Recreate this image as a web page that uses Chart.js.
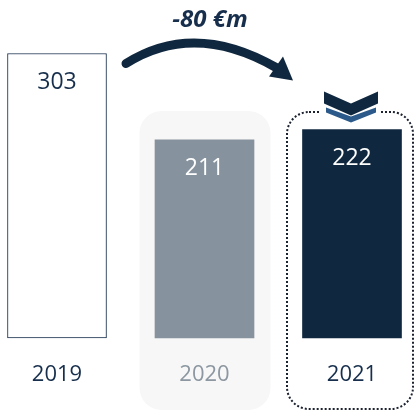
<!DOCTYPE html>
<html>
<head>
<meta charset="utf-8">
<script src="https://cdn.jsdelivr.net/npm/chart.js@4/dist/chart.umd.min.js"></script>
<style>
  html, body { margin: 0; padding: 0; background: #ffffff; }
  #wrap { width: 415px; height: 411px; position: relative; }
</style>
</head>
<body>
<div id="wrap"><canvas id="c" width="415" height="411"></canvas></div>
<script>
// Yearly totals (€m)
const years = ['2019', '2020', '2021'];
const totals = [303, 211, 222];
const changeLabel = '-80 €m';

const NAVY = '#10283f';
const NAVY_TEXT = '#172f4c';
const GREY = '#86929d';
const GREY_TEXT = '#8c97a1';
const LIGHT_BLUE = '#2b5a8a';
const FONT = '"Open Sans", "DejaVu Sans", sans-serif';

function roundRect(ctx, x, y, w, h, r) {
  ctx.beginPath();
  ctx.moveTo(x + r, y);
  ctx.lineTo(x + w - r, y);
  ctx.arcTo(x + w, y, x + w, y + r, r);
  ctx.lineTo(x + w, y + h - r);
  ctx.arcTo(x + w, y + h, x + w - r, y + h, r);
  ctx.lineTo(x + r, y + h);
  ctx.arcTo(x, y + h, x, y + h - r, r);
  ctx.lineTo(x, y + r);
  ctx.arcTo(x, y, x + r, y, r);
  ctx.closePath();
}

// Panels behind the 2020 and 2021 columns
const panels = {
  id: 'panels',
  beforeDraw(chart) {
    const ctx = chart.ctx;
    const xs = chart.scales.x;
    const x20 = xs.getPixelForValue(1);
    const x21 = xs.getPixelForValue(2);
    const top = chart.chartArea.top + 111;
    const bottom = chart.height - 1;
    ctx.save();
    // soft grey panel for 2020
    roundRect(ctx, x20 - 65, top, 131, bottom - top, 22);
    ctx.fillStyle = '#f7f7f7';
    ctx.fill();
    // dotted frame for 2021
    roundRect(ctx, x21 - 65, top + 1, 126, bottom - top - 2, 22);
    ctx.setLineDash([2, 2]);
    ctx.lineWidth = 2;
    ctx.strokeStyle = '#1c2230';
    ctx.stroke();
    ctx.setLineDash([]);
    ctx.restore();
  }
};

// Value labels inside the bars, change arrow and chevrons
const annotations = {
  id: 'annotations',
  afterDatasetsDraw(chart) {
    const ctx = chart.ctx;
    const meta = chart.getDatasetMeta(0);
    ctx.save();
    ctx.font = '23px ' + FONT;
    ctx.textAlign = 'center';
    ctx.textBaseline = 'middle';
    meta.data.forEach((bar, i) => {
      ctx.fillStyle = i === 0 ? NAVY_TEXT : '#ffffff';
      ctx.fillText(String(totals[i]), bar.x, bar.y + 29);
    });
    ctx.restore();
  },
  afterDraw(chart) {
    const ctx = chart.ctx;
    const meta = chart.getDatasetMeta(0);
    const b0 = meta.data[0];
    const b2 = meta.data[2];
    ctx.save();

    // curved arrow from 2019 towards 2021
    const sx = b0.x + 69, sy = b0.y + 10;
    const ex = b2.x - 76, ey = b0.y + 14;
    ctx.beginPath();
    ctx.moveTo(sx, sy);
    ctx.quadraticCurveTo(sx + 68, sy - 43, ex, ey);
    ctx.lineWidth = 9;
    ctx.lineCap = 'round';
    ctx.strokeStyle = NAVY;
    ctx.stroke();
    ctx.beginPath();
    ctx.moveTo(ex + 7, ey - 11);
    ctx.lineTo(ex + 17, ey + 13);
    ctx.lineTo(ex - 7, ey + 9);
    ctx.closePath();
    ctx.fillStyle = NAVY;
    ctx.fill();

    // change label
    ctx.font = 'italic bold 24px ' + FONT;
    ctx.textAlign = 'center';
    ctx.textBaseline = 'middle';
    ctx.fillStyle = NAVY_TEXT;
    ctx.fillText(changeLabel, (sx + ex) / 2 + 9, 20);

    // gap in dotted frame + double chevron over 2021
    const cx = b2.x - 1;
    const cy = b2.y;
    ctx.fillStyle = '#ffffff';
    ctx.fillRect(cx - 30, cy - 22, 60, 8);
    ctx.beginPath();
    ctx.moveTo(cx - 27, cy - 38);
    ctx.lineTo(cx, cy - 26);
    ctx.lineTo(cx + 27, cy - 38);
    ctx.lineTo(cx + 27, cy - 26);
    ctx.lineTo(cx, cy - 14);
    ctx.lineTo(cx - 27, cy - 26);
    ctx.closePath();
    ctx.fillStyle = NAVY;
    ctx.fill();
    ctx.beginPath();
    ctx.moveTo(cx - 25, cy - 22);
    ctx.lineTo(cx, cy - 13);
    ctx.lineTo(cx + 25, cy - 22);
    ctx.lineTo(cx + 25, cy - 17);
    ctx.lineTo(cx, cy - 7);
    ctx.lineTo(cx - 25, cy - 17);
    ctx.closePath();
    ctx.fillStyle = LIGHT_BLUE;
    ctx.fill();
    ctx.restore();
  }
};

new Chart(document.getElementById('c'), {
  type: 'bar',
  data: {
    labels: years,
    datasets: [{
      data: totals,
      backgroundColor: ['#ffffff', GREY, NAVY],
      borderColor: [NAVY_TEXT, GREY, NAVY],
      borderWidth: [1, 0, 0],
      borderSkipped: false,
      barThickness: 99,
      clip: false
    }]
  },
  options: {
    responsive: false,
    animation: false,
    layout: { padding: { left: 57, right: 63, top: 0, bottom: 0 } },
    plugins: { legend: { display: false }, tooltip: { enabled: false } },
    scales: {
      x: {
        offset: false,
        grid: { display: false },
        border: { display: false },
        ticks: {
          padding: 16,
          maxRotation: 0,
          autoSkip: false,
          font: { family: FONT, size: 22 },
          color: (c) => (c.index === 1 ? GREY_TEXT : NAVY_TEXT)
        },
        afterFit: (s) => { s.height = 73; }
      },
      y: { display: false, min: 0, max: 360 }
    }
  },
  plugins: [panels, annotations]
});
</script>
</body>
</html>
